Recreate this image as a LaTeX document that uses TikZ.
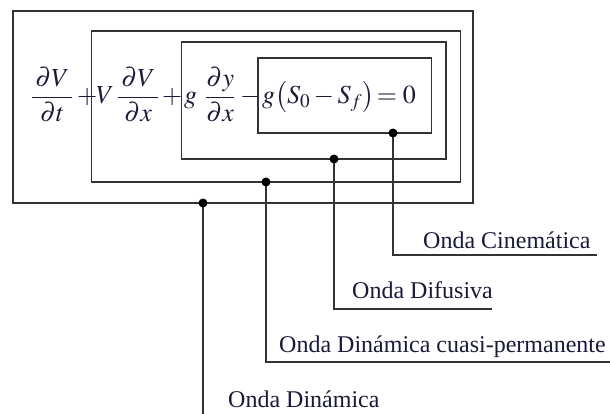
\documentclass[tikz,border=0pt]{standalone}
\usepackage{mathptmx}
\usepackage[no-math]{fontspec}
\setmainfont{Liberation Serif}
\definecolor{linegray}{HTML}{333333}
\definecolor{ink}{HTML}{1A1A3A}
\begin{document}
\begin{tikzpicture}[x=1pt,y=-1pt,
  box/.style={draw=linegray, line width=1.8pt, inner sep=0pt},
  conn/.style={draw=linegray, line width=1.8pt},
  dot/.style={fill=black},
  eq/.style={inner sep=0pt, anchor=base west, text=ink, font=\fontsize{26}{30}\selectfont},
  lab/.style={inner sep=0pt, anchor=base west, text=ink, font=\fontsize{24}{28}\selectfont}]
\useasboundingbox (0,0) rectangle (610,414);
\fill[white] (0,0) rectangle (610,414);
% boxes
\node[box, minimum width=460pt, minimum height=192pt] (b1) at (243,107) {};
\node[box, minimum width=369pt, minimum height=151pt] (b2) at (276,106.5) {};
\node[box, minimum width=264.5pt, minimum height=117pt] (b3) at (313.75,100.5) {};
\node[box, minimum width=173.5pt, minimum height=75pt] (b4) at (344.75,95.5) {};
% equation
\node[eq] (q1) at (31,104) {$\displaystyle\frac{\,\partial V\,}{\partial t}$};
\node[eq] (q2) at (77,104) {$+$};
\node[eq] (q3) at (96,104) {$V$};
\node[eq] (q4) at (117,104) {$\displaystyle\frac{\,\partial V\,}{\partial x}$};
\node[eq] (q5) at (162,104) {$+$};
\node[eq] (q6) at (184,104) {$g$};
\node[eq] (q7) at (205,104) {$\displaystyle\frac{\partial y}{\partial x}$};
\node[eq] (q8) at (240,104) {$-$};
\node[eq] (q9) at (262,104) {$g\bigl(S_0-S_f\bigr)\!=0$};
% dots
\coordinate (d1) at (203,203);
\coordinate (d2) at (266,182);
\coordinate (d3) at (334,159);
\coordinate (d4) at (393,133);
% labels
\node[lab] (l4) at (423,248) {Onda Cinemática};
\node[lab] (l3) at (352,298) {Onda Difusiva};
\node[lab] (l2) at (279,352) {Onda Dinámica cuasi-permanente};
\node[lab] (l1) at (228,407) {Onda Dinámica};
\coordinate (e4) at (597,255);
\coordinate (e3) at (492,309);
\coordinate (e2) at (612,362);
\coordinate (e1) at (203,416);
% connectors
\draw[conn] (d4) |- (e4);
\draw[conn] (d3) |- (e3);
\draw[conn] (d2) |- (e2);
\draw[conn] (d1) -- (e1);
\foreach \d in {d1,d2,d3,d4} \fill[dot] (\d) circle (4.5pt);
\end{tikzpicture}
\end{document}
